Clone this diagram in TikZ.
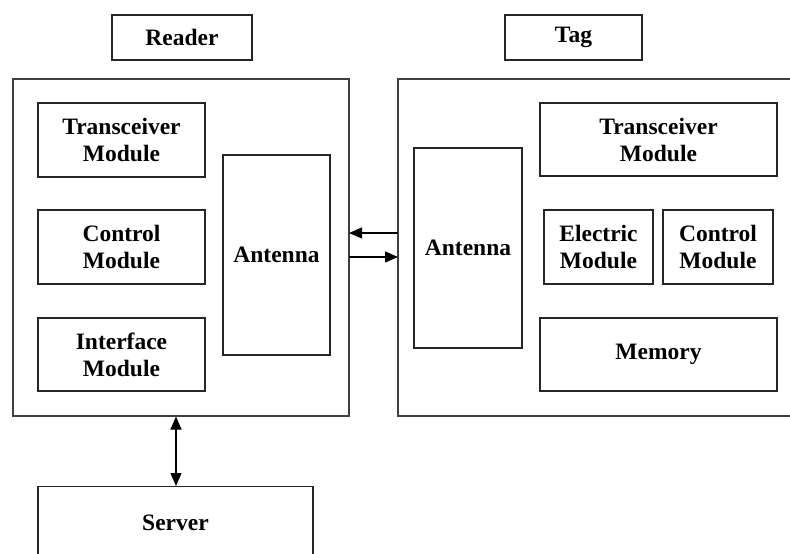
\documentclass[tikz,border=0pt]{standalone}
\usepackage{fontspec}
\setmainfont{Liberation Serif}
\usetikzlibrary{arrows.meta}
\begin{document}
\begin{tikzpicture}[x=1pt,y=-1pt,
  box/.style={draw=black!85,line width=1.1pt,inner sep=0pt,align=center,
    font=\fontsize{23.5}{27}\selectfont\bfseries},
  frame/.style={draw=black!75,line width=1.1pt},
  conn/.style={line width=1.1pt,-{Triangle[length=13pt,width=11pt]}},
  dconn/.style={line width=1.1pt,{Triangle[length=13pt,width=11pt]}-{Triangle[length=13pt,width=11pt]}}]
\useasboundingbox (0,0) rectangle (790,554);
\clip (0,0) rectangle (790,554);
\fill[white] (0,0) rectangle (790,554);
% label boxes
\node[box,minimum width=140pt,minimum height=45pt] (reader) at (182,37.5) {Reader};
\node[box,minimum width=137pt,minimum height=45pt] (tag) at (573.5,37.5) {Tag};
% outer frames
\node[frame,minimum width=336pt,minimum height=337pt,inner sep=0pt] (rframe) at (181,247.5) {};
\node[frame,minimum width=420pt,minimum height=337pt,inner sep=0pt] (tframe) at (608,247.5) {};
% reader modules
\node[box,minimum width=167pt,minimum height=74pt] (rtx) at (121.5,140) {Transceiver\\Module};
\node[box,minimum width=167pt,minimum height=74pt] (rctl) at (121.5,247) {Control\\Module};
\node[box,minimum width=167pt,minimum height=73pt] (rif) at (121.5,354.5) {Interface\\Module};
\node[box,minimum width=107pt,minimum height=200pt] (rant) at (276.5,255) {Antenna};
% tag modules
\node[box,minimum width=108pt,minimum height=200pt] (tant) at (468,248) {Antenna};
\node[box,minimum width=237pt,minimum height=73pt] (ttx) at (658.5,139.5) {Transceiver\\Module};
\node[box,minimum width=109pt,minimum height=74pt] (tel) at (598.5,247) {Electric\\Module};
\node[box,minimum width=110pt,minimum height=74pt] (tctl) at (718,247) {Control\\Module};
\node[box,minimum width=237pt,minimum height=73pt] (tmem) at (658.5,354.5) {Memory};
% server
\node[box,minimum width=275pt,minimum height=120pt,anchor=north] (server) at (175.5,486) {};
\node[font=\fontsize{23.5}{27}\selectfont\bfseries] (servertxt) at (175.5,523) {Server};
% connectors
\coordinate (a1) at (398,233);
\coordinate (a2) at (349,233);
\coordinate (b1) at (349,257);
\coordinate (b2) at (398,257);
\draw[conn] (a1) -- (a2);
\draw[conn] (b1) -- (b2);
\draw[dconn] (rframe.south -| 176,0) -- (server.north -| 176,0);
\end{tikzpicture}
\end{document}
